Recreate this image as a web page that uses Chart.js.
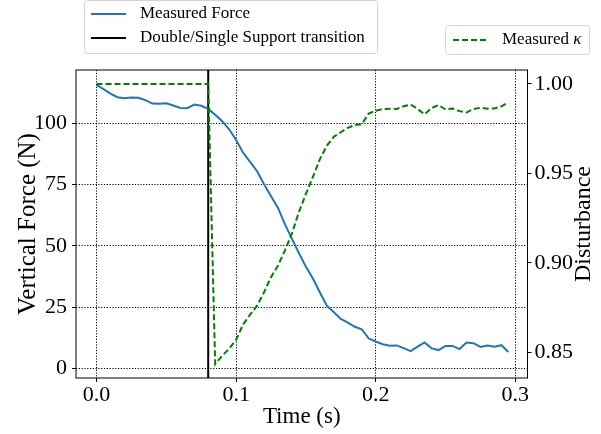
<!DOCTYPE html>
<html>
<head>
<meta charset="utf-8">
<script src="https://cdn.jsdelivr.net/npm/chart.js@4.4.0/dist/chart.umd.min.js"></script>
<style>
html, body { margin: 0; padding: 0; background: #fff; }
#wrap { width: 601px; height: 434px; }
</style>
</head>
<body>
<div id="wrap"><canvas id="chart" width="601" height="434"></canvas></div>
<script>
// time stamps (s)
var timeValues = [0, 0.005, 0.01, 0.015, 0.02, 0.025, 0.03, 0.035, 0.04, 0.045,
    0.05, 0.055, 0.06, 0.065, 0.07, 0.075, 0.08, 0.085, 0.09, 0.095,
    0.1, 0.105, 0.11, 0.115, 0.12, 0.125, 0.13, 0.135, 0.14, 0.145,
    0.15, 0.155, 0.16, 0.165, 0.17, 0.175, 0.18, 0.185, 0.19, 0.195,
    0.2, 0.205, 0.21, 0.215, 0.22, 0.225, 0.23, 0.235, 0.24, 0.245,
    0.25, 0.255, 0.26, 0.265, 0.27, 0.275, 0.28, 0.285, 0.29, 0.295];

// vertical force (N)
var forceValues = [115.7, 114.0, 112.2, 110.7, 110.3, 110.6, 110.5, 109.5, 108.1, 108.0,
    108.2, 107.3, 106.3, 106.2, 107.7, 107.2, 105.9, 103.5, 100.9, 97.6,
    93.2, 88.0, 84.3, 80.5, 75.2, 70.3, 65.5, 58.8, 52.9, 47.0,
    41.5, 36.7, 31.0, 25.6, 22.9, 20.2, 18.7, 17.0, 16.0, 12.2,
    11.0, 9.9, 9.3, 9.4, 8.3, 7.1, 8.9, 10.6, 8.2, 7.5,
    9.2, 9.2, 7.9, 10.6, 10.3, 8.8, 9.4, 8.9, 9.5, 6.7];

// measured kappa (disturbance)
var kappaValues = [1.0, 1.0, 1.0, 1.0, 1.0, 1.0, 1.0, 1.0, 1.0, 1.0,
    1.0, 1.0, 1.0, 1.0, 1.0, 1.0, 1.0, 0.8434, 0.848, 0.852,
    0.857, 0.8655, 0.871, 0.876, 0.8835, 0.892, 0.8985, 0.907, 0.9165, 0.9285,
    0.9385, 0.948, 0.958, 0.9655, 0.9705, 0.973, 0.9755, 0.977, 0.9775, 0.9835,
    0.985, 0.986, 0.9862, 0.986, 0.9875, 0.9885, 0.986, 0.983, 0.9865, 0.9882,
    0.9857, 0.9863, 0.9848, 0.984, 0.986, 0.9867, 0.9862, 0.9863, 0.9875, 0.9897];

var transitionTime = 0.08;

var xTicks = [0, 0.1, 0.2, 0.3];
var xTickLabels = ['0.0', '0.1', '0.2', '0.3'];
var forceTicks = [0, 25, 50, 75, 100];
var forceTickLabels = ['0', '25', '50', '75', '100'];
var kappaTicks = [0.85, 0.90, 0.95, 1.00];
var kappaTickLabels = ['0.85', '0.90', '0.95', '1.00'];

var serif = "'Liberation Serif', 'DejaVu Serif', serif";

function toPoints(xs, ys) {
    return xs.map(function (x, i) { return {x: x, y: ys[i]}; });
}

var gridStyle = {
    color: '#000',
    lineWidth: 1,
    drawTicks: true,
    tickLength: 4,
    tickColor: '#000',
    tickWidth: 1,
    tickBorderDash: []
};
// in Chart.js v4 the grid line dash lives in the border options
var dottedBorder = {display: false, dash: [1.2, 1.6]};

var overlay = {
    id: 'overlay',
    beforeDatasetsDraw: function (chart) {
        var ctx = chart.ctx, area = chart.chartArea;
        var x = chart.scales.x.getPixelForValue(transitionTime);
        ctx.save();
        ctx.strokeStyle = '#000';
        ctx.lineWidth = 2;
        ctx.beginPath();
        ctx.moveTo(x, area.top);
        ctx.lineTo(x, area.bottom);
        ctx.stroke();
        ctx.restore();
    },
    afterDraw: function (chart) {
        var ctx = chart.ctx, area = chart.chartArea;
        ctx.save();
        // frame
        ctx.strokeStyle = '#000';
        ctx.lineWidth = 1;
        ctx.strokeRect(area.left, area.top, area.right - area.left, area.bottom - area.top);

        // right axis title
        ctx.fillStyle = '#000';
        ctx.font = '24px ' + serif;
        ctx.textAlign = 'center';
        ctx.textBaseline = 'middle';
        ctx.translate(584, (area.top + area.bottom) / 2);
        ctx.rotate(-Math.PI / 2);
        ctx.fillText('Disturbance', 0, 0);
        ctx.restore();

        // legends
        ctx.save();
        legendBox(ctx, 84.5, 0.5, 293, 53);
        legendBox(ctx, 445.5, 25.5, 144, 29);
        ctx.font = '17px ' + serif;
        ctx.fillStyle = '#000';
        ctx.textAlign = 'left';
        ctx.textBaseline = 'middle';

        ctx.lineWidth = 2;
        ctx.strokeStyle = '#1f77b4';
        ctx.beginPath(); ctx.moveTo(91, 14); ctx.lineTo(126, 14); ctx.stroke();
        ctx.fillText('Measured Force', 140, 14);

        ctx.strokeStyle = '#000';
        ctx.beginPath(); ctx.moveTo(91, 38); ctx.lineTo(126, 38); ctx.stroke();
        ctx.fillText('Double/Single Support transition', 140, 38);

        ctx.strokeStyle = '#008000';
        ctx.setLineDash([6, 3]);
        ctx.beginPath(); ctx.moveTo(453, 40); ctx.lineTo(488, 40); ctx.stroke();
        ctx.setLineDash([]);
        ctx.fillText('Measured ', 502, 40);
        var w = ctx.measureText('Measured ').width;
        ctx.font = 'italic 17px ' + serif;
        ctx.fillText('\u03BA', 502 + w, 40);
        ctx.restore();
    }
};

function legendBox(ctx, x, y, w, h) {
    var r = 3;
    ctx.beginPath();
    ctx.moveTo(x + r, y);
    ctx.lineTo(x + w - r, y);
    ctx.arcTo(x + w, y, x + w, y + r, r);
    ctx.lineTo(x + w, y + h - r);
    ctx.arcTo(x + w, y + h, x + w - r, y + h, r);
    ctx.lineTo(x + r, y + h);
    ctx.arcTo(x, y + h, x, y + h - r, r);
    ctx.lineTo(x, y + r);
    ctx.arcTo(x, y, x + r, y, r);
    ctx.closePath();
    ctx.fillStyle = 'rgba(255,255,255,0.8)';
    ctx.fill();
    ctx.strokeStyle = '#d4d4d4';
    ctx.lineWidth = 1;
    ctx.stroke();
}

new Chart(document.getElementById('chart'), {
    type: 'line',
    data: {
        datasets: [{
            label: 'Measured \u03BA',
            data: toPoints(timeValues, kappaValues),
            yAxisID: 'y2',
            borderColor: '#008000',
            borderWidth: 2,
            borderDash: [6, 3],
            pointRadius: 0,
            tension: 0,
            order: 0
        }, {
            label: 'Measured Force',
            data: toPoints(timeValues, forceValues),
            yAxisID: 'y',
            borderColor: '#1f77b4',
            borderWidth: 2,
            pointRadius: 0,
            tension: 0,
            order: 1
        }]
    },
    options: {
        responsive: false,
        animation: false,
        devicePixelRatio: 1,
        layout: {padding: {top: 70, left: 0, right: 0, bottom: 0}},
        plugins: {legend: {display: false}, tooltip: {enabled: false}},
        scales: {
            x: {
                type: 'linear',
                min: -0.0147,
                max: 0.3087,
                afterBuildTicks: function (s) { s.ticks = xTicks.map(function (v) { return {value: v}; }); },
                afterFit: function (s) { s.height = 56; },
                grid: gridStyle,
                border: dottedBorder,
                ticks: {
                    color: '#000',
                    font: {family: serif, size: 22},
                    padding: 0,
                    maxRotation: 0,
                    autoSkip: false,
                    callback: function (v, i) { return xTickLabels[i]; }
                },
                title: {
                    display: true,
                    text: 'Time (s)',
                    color: '#000',
                    font: {family: serif, size: 23},
                    padding: {top: 0, bottom: 3}
                }
            },
            y: {
                type: 'linear',
                position: 'left',
                min: -3.9,
                max: 121.8,
                afterBuildTicks: function (s) { s.ticks = forceTicks.map(function (v) { return {value: v}; }); },
                afterFit: function (s) { s.width = 76; },
                grid: gridStyle,
                border: dottedBorder,
                ticks: {
                    color: '#000',
                    font: {family: serif, size: 22},
                    padding: 5,
                    callback: function (v, i) { return forceTickLabels[i]; }
                },
                title: {
                    display: true,
                    text: 'Vertical Force (N)',
                    color: '#000',
                    font: {family: serif, size: 25},
                    padding: {top: 13, bottom: 0}
                }
            },
            y2: {
                type: 'linear',
                position: 'right',
                min: 0.8356,
                max: 1.0078,
                afterBuildTicks: function (s) { s.ticks = kappaTicks.map(function (v) { return {value: v}; }); },
                afterFit: function (s) { s.width = 73.5; },
                grid: {
                    display: true,
                    drawOnChartArea: false,
                    drawTicks: true,
                    tickLength: 4,
                    tickColor: '#000',
                    tickWidth: 1
                },
                border: {display: false},
                ticks: {
                    color: '#000',
                    font: {family: serif, size: 22},
                    padding: 3,
                    callback: function (v, i) { return kappaTickLabels[i]; }
                }
            }
        }
    },
    plugins: [overlay]
});
</script>
</body>
</html>
